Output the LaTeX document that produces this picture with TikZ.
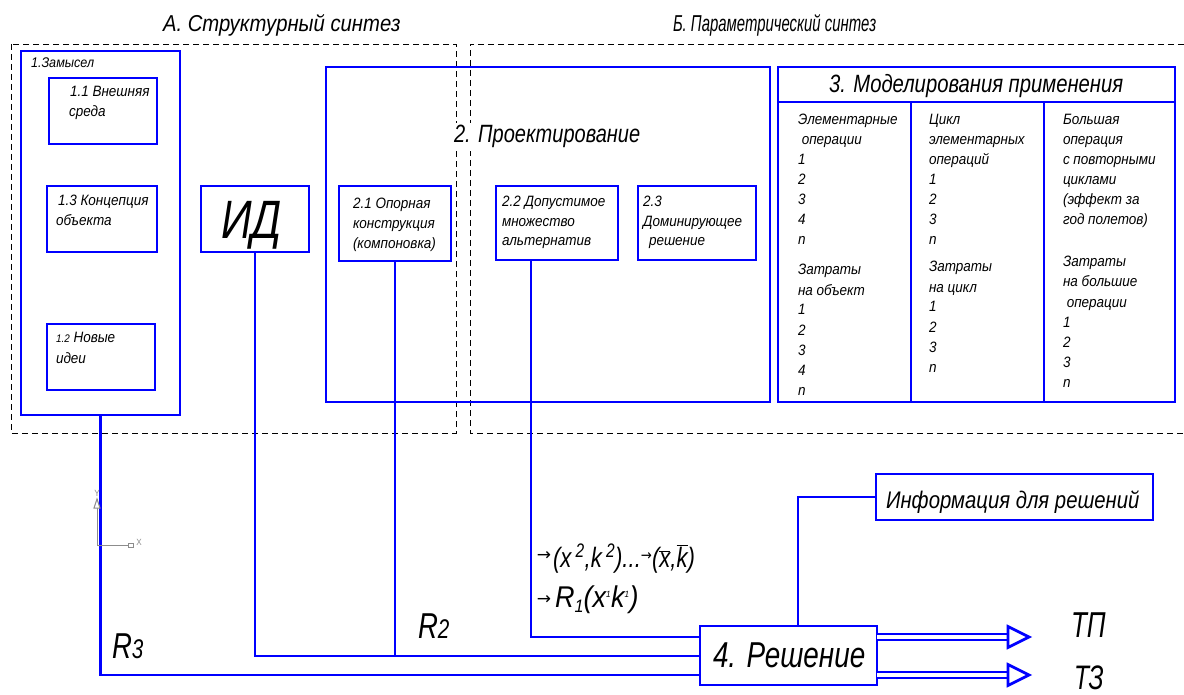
\documentclass[tikz,border=0pt]{standalone}
\usepackage{graphicx}
\usepackage{fontspec}
\setmainfont{Liberation Sans}
\newfontfamily\gost[FakeStretch=0.9]{Liberation Sans}
\newfontfamily\symfont{DejaVu Sans}
\usetikzlibrary{calc}
\definecolor{cadblue}{RGB}{0,0,255}
\definecolor{axisgray}{RGB}{140,140,140}

\tikzset{
  frame/.style={draw=cadblue, line width=2.7pt},
  blk/.style={frame, rectangle, inner sep=0pt, outer sep=0pt, anchor=north west},
  wire/.style={draw=cadblue, line width=2.7pt},
  twin/.style={draw=cadblue, double=white, double distance=3.2pt, line width=2.2pt},
  zone/.style={draw=black, line width=0.9pt, dash pattern=on 6pt off 4pt},
  lbl/.style={inner sep=0pt, outer sep=0pt, anchor=base west},
  fs/.style={font=\gost\itshape\fontsize{#1}{#1}\selectfont},
  axis/.style={draw=axisgray, line width=1pt}
}
% box by its corners: name, x1, y1, x2, y2
\newcommand\mkbox[5]{\node[blk, minimum width={#4-#2}, minimum height={#5-#3}] (#1) at (#2,#3) {};}
% horizontally narrowed lettering
\newcommand\nar[2]{\scalebox{#1}[1]{#2}}

\begin{document}
\begin{tikzpicture}[x=1pt,y=-1pt]
\useasboundingbox (0,0) rectangle (1184,695);

% ---- zones A and B
\draw[zone] (11,44) rectangle (456,433);
\draw[zone] (1184,44) -- (470,44) -- (470,433) -- (1184,433);
\node[lbl, fs=23] (titleA) at (163,32) {\nar{0.98}{А. Структурный синтез}};
\node[lbl, fs=23] (titleB) at (673,32) {\nar{0.72}{Б. Параметрический синтез}};

% ---- 1. Замысел
\mkbox{b1}{21}{51}{180}{415}
\mkbox{b11}{49}{78}{157}{144}
\mkbox{b13}{47}{186}{157}{252}
\mkbox{b12}{47}{324}{155}{390}
\node[lbl, fs=14] (t1) at (31,68) {1.Замысел};
\node[lbl, fs=15] (t11a) at (70,97) {1.1 Внешняя};
\node[lbl, fs=15] (t11b) at (69,117) {среда};
\node[lbl, fs=15] (t13a) at (58,206) {1.3 Концепция};
\node[lbl, fs=15] (t13b) at (56,226) {объекта};
\node[lbl, fs=15] (t12a) at (56,342) {{\fontsize{11}{11}\selectfont 1.2} Новые};
\node[lbl, fs=15] (t12b) at (56,363) {идеи};

% ---- ИД
\mkbox{bid}{201}{186}{309}{252}
\node[lbl, fs=54] (tid) at (221,239) {\nar{0.88}{ИД}};

% ---- 2. Проектирование
\mkbox{b2}{326}{67}{770}{402}
\node[lbl, fs=25, fill=white, inner ysep=3pt] (t2) at (454,143) {\nar{0.89}{2. Проектирование}};
\mkbox{b21}{339}{186}{451}{261}
\mkbox{b22}{496}{186}{618}{260}
\mkbox{b23}{638}{186}{756}{260}
\node[lbl, fs=15] (t21a) at (353,209) {2.1 Опорная};
\node[lbl, fs=15] (t21b) at (353,229) {конструкция};
\node[lbl, fs=15] (t21c) at (353,249) {(компоновка)};
\node[lbl, fs=15] (t22a) at (502,207) {2.2 Допустимое};
\node[lbl, fs=15] (t22b) at (502,227) {множество};
\node[lbl, fs=15] (t22c) at (502,246) {альтернатив};
\node[lbl, fs=15] (t23a) at (643,207) {2.3};
\node[lbl, fs=15] (t23b) at (643,227) {Доминирующее};
\node[lbl, fs=15] (t23c) at (649,246) {решение};

% ---- 3. Моделирования применения (table)
\mkbox{b3}{778}{67}{1175}{402}
\coordinate (hL) at (778,102);
\coordinate (hR) at (1175,102);
\coordinate (c1t) at (911,102);
\coordinate (c2t) at (1044,102);
\draw[frame] (hL) -- (hR);
\draw[frame] (c1t) -- (c1t |- b3.south);
\draw[frame] (c2t) -- (c2t |- b3.south);
\node[lbl, fs=25] (t3) at (829,93) {\nar{0.9}{3. Моделирования применения}};

\foreach \s [count=\i from 0] in {Элементарные,{\ операции},1,2,3,4,n}
  \node[lbl, fs=15] (ca\i) at (798,125+20*\i) {\s};
\foreach \s [count=\i from 0] in {Затраты,на объект,1,2,3,4,n}
  \node[lbl, fs=15] (cb\i) at (798,275+20*\i) {\s};
\foreach \s [count=\i from 0] in {Цикл,элементарных,операций,1,2,3,n}
  \node[lbl, fs=15] (cc\i) at (929,125+20*\i) {\s};
\foreach \s [count=\i from 0] in {Затраты,на цикл,1,2,3,n}
  \node[lbl, fs=15] (cd\i) at (929,272+20*\i) {\s};
\foreach \s [count=\i from 0] in {Большая,операция,с повторными,циклами,{(эффект за},{год полетов)}}
  \node[lbl, fs=15] (ce\i) at (1063,125+20*\i) {\s};
\foreach \s [count=\i from 0] in {Затраты,на большие,{\ операции},1,2,3,n}
  \node[lbl, fs=15] (cf\i) at (1063,267+20*\i) {\s};

% ---- 4. Решение and information box
\mkbox{r4}{700}{626}{877}{685}
\node[lbl, fs=36] (t4) at (713,667) {\nar{0.86}{4. Решение}};
\mkbox{info}{876}{474}{1153}{520}
\node[lbl, fs=24] (tinfo) at (886,508) {\nar{0.94}{Информация для решений}};

% ---- connectors into the decision block
\coordinate (j1) at (0,675);
\coordinate (j2) at (0,656);
\coordinate (j4) at (531,637);
\coordinate (j5) at (798,497);
\draw[wire] (b1.south) |- (r4.west |- j1);
\draw[wire] (bid.south) |- (r4.west |- j2);
\draw[wire] (b21.south) -- (b21.south |- j2);
\draw[wire] (b22.south -| j4) -- (j4) -- (r4.west |- j4);
\draw[wire] (info.west) -- (j5) -- (r4.north -| j5);

% ---- outputs ТП and ТЗ
\coordinate (o1) at (1008,637);
\coordinate (o2) at (1008,675);
\draw[twin] (r4.east |- o1) -- (o1);
\draw[twin] (r4.east |- o2) -- (o2);
\draw[frame, fill=white] ([yshift=10.5pt]o1) -- ([xshift=21pt]o1) -- ([yshift=-10.5pt]o1) -- cycle;
\draw[frame, fill=white] ([yshift=10.5pt]o2) -- ([xshift=21pt]o2) -- ([yshift=-10.5pt]o2) -- cycle;
\node[lbl, fs=36] (ttp) at (1071,637) {\nar{0.8}{ТП}};
\node[lbl, fs=34] (ttz) at (1074,689) {\nar{0.8}{ТЗ}};

% ---- flow labels R2, R3
\node[lbl, fs=36] (tr2) at (418,638) {\nar{0.85}{R{\fontsize{27}{27}\selectfont 2}}};
\node[lbl, fs=36] (tr3) at (112,658) {\nar{0.85}{R{\fontsize{27}{27}\selectfont 3}}};

% ---- alternatives
\node[font=\symfont\fontsize{17}{17}\selectfont, inner sep=0pt] (ar1) at (544,556) {→};
\node[font=\symfont\fontsize{17}{17}\selectfont, inner sep=0pt] (ar2) at (544,600) {→};
\node[lbl, fs=28] (f1) at (553,567)
  {\nar{0.88}{(x\,\textsuperscript{2},k\,\textsuperscript{2})...{\symfont\fontsize{15}{15}\selectfont\raisebox{7pt}{→}}($\overline{\hbox{x}}$,$\overline{\hbox{k}}$)}};
\node[lbl, fs=30] (f2) at (555,607)
  {R\raisebox{-5pt}{\fontsize{18}{18}\selectfont 1}(x\textsuperscript{\fontsize{9}{9}\selectfont 1}k\textsuperscript{\fontsize{9}{9}\selectfont 1})};

% ---- coordinate system mark
\coordinate (ax0) at (97,545);
\coordinate (axy) at (97,499);
\coordinate (axx) at (128,545);
\draw[axis] (ax0) -- (axy);
\draw[axis] (ax0) -- (axx);
\draw[axis, fill=white] (axy) -- ++(-3,9) -- ++(6,0) -- cycle;
\draw[axis, fill=white] (128,543) rectangle (133,547);
\node[text=axisgray, font=\gost\fontsize{9}{9}\selectfont, inner sep=0pt] (lbly) at (97,493) {Y};
\node[text=axisgray, font=\gost\fontsize{9}{9}\selectfont, inner sep=0pt] (lblx) at (139,542) {X};
\end{tikzpicture}
\end{document}
